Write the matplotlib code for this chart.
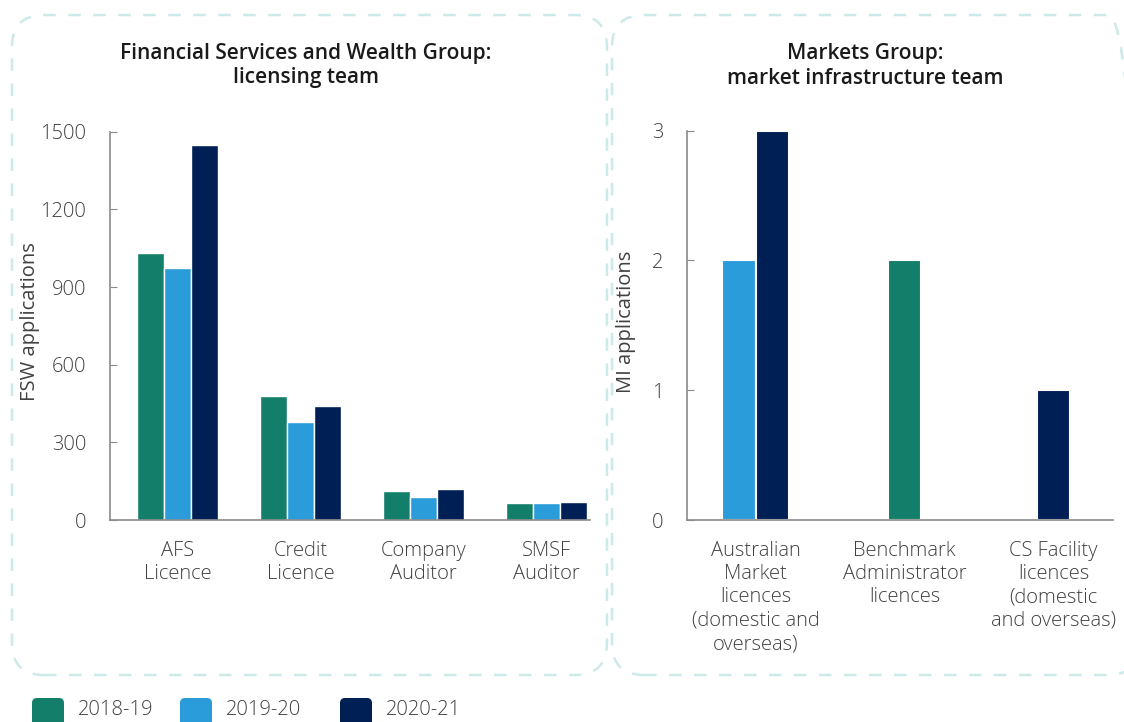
import matplotlib
matplotlib.use("Agg")
import matplotlib.pyplot as plt
import numpy as np
from matplotlib.patches import FancyBboxPatch

plt.rcParams['font.family'] = ['Open Sans', 'DejaVu Sans']
plt.rcParams['font.weight'] = 'light'

# data
years = ['2018-19', '2019-20', '2020-21']
colors = ['#137f6a', '#2b9cda', '#001f55']

fsw_categories = ['AFS\nLicence', 'Credit\nLicence', 'Company\nAuditor', 'SMSF\nAuditor']
fsw_2018 = [1033, 478, 112, 67]
fsw_2019 = [973, 380, 89, 66]
fsw_2020 = [1448, 442, 121, 71]

mi_categories = ['Australian\nMarket\nlicences\n(domestic and\noverseas)',
                 'Benchmark\nAdministrator\nlicences',
                 'CS Facility\nlicences\n(domestic\nand overseas)']
mi_2018 = [0, 2, 0]
mi_2019 = [2, 0, 0]
mi_2020 = [3, 0, 1]

W, H = 1124, 722
fig = plt.figure(figsize=(W / 100, H / 100), dpi=100)

txt = '#404040'
axc = '#8a8a8a'
box_c = '#cdeaea'
fs = 14.5


def style_axis(ax):
    for s in ['top', 'right']:
        ax.spines[s].set_visible(False)
    for s in ['left', 'bottom']:
        ax.spines[s].set_color(axc)
        ax.spines[s].set_linewidth(1.2)
    ax.tick_params(axis='y', direction='in', length=5, color=axc, pad=17,
                   labelsize=fs, labelcolor=txt)
    ax.tick_params(axis='x', length=0, pad=15, labelsize=fs, labelcolor=txt)


# left chart
ax1 = fig.add_axes([110 / W, 1 - 520 / H, 480 / W, (520 - 131.7) / H])
x = np.arange(len(fsw_categories))
w = 0.22
for j, vals in enumerate([fsw_2018, fsw_2019, fsw_2020]):
    ax1.bar(x + (j - 1) * w, vals, width=w, color=colors[j],
            edgecolor='white', linewidth=1)
ax1.set_xlim(-0.553, 3.358)
ax1.set_ylim(0, 1500)
ax1.set_yticks([0, 300, 600, 900, 1200, 1500])
ax1.set_xticks(x)
ax1.set_xticklabels(fsw_categories, linespacing=1.22)
ax1.set_ylabel('FSW applications', fontsize=fs, color=txt)
ax1.yaxis.set_label_coords((40 - 110) / 480, 0.51)
style_axis(ax1)

# right chart - only non-zero bars, centred on category
ax2 = fig.add_axes([687 / W, 1 - 520 / H, 426 / W, (520 - 130.7) / H])
w2 = 0.225
mi_series = [mi_2018, mi_2019, mi_2020]
for i in range(len(mi_categories)):
    nz = [j for j in range(3) if mi_series[j][i] > 0]
    for k, j in enumerate(nz):
        off = (k - (len(nz) - 1) / 2) * w2
        ax2.bar(i + off, mi_series[j][i], width=w2, color=colors[j],
                edgecolor='white', linewidth=1.5)
ax2.set_xlim(-0.46, 2.4)
ax2.set_ylim(0, 3)
ax2.set_yticks([0, 1, 2, 3])
ax2.set_xticks(range(len(mi_categories)))
ax2.set_xticklabels(mi_categories, linespacing=1.22, va='top')
ax2.set_ylabel('MI applications', fontsize=fs, color=txt)
ax2.yaxis.set_label_coords((636 - 687) / 426, 0.51)
style_axis(ax2)

# titles
fig.text(306 / W, 1 - 65.5 / H, 'Financial Services and Wealth Group:\nlicensing team',
         ha='center', va='center', fontsize=15, fontweight='semibold',
         color='#1a1a1a', linespacing=1.25)
fig.text(865 / W, 1 - 65.5 / H, 'Markets Group:\nmarket infrastructure team',
         ha='center', va='center', fontsize=15, fontweight='semibold',
         color='#1a1a1a', linespacing=1.25)

# dashed rounded panels (pixel coordinates)
for x0, x1 in [(12, 607), (612, 1140)]:
    p = FancyBboxPatch((x0, H - 675), x1 - x0, 675 - 15,
                       boxstyle='round,pad=0,rounding_size=32',
                       transform=None, fill=False, edgecolor=box_c,
                       linewidth=1.8, linestyle=(0, (5, 5)))
    fig.add_artist(p)

# legend
leg_x = [32, 180, 340]
for j, yr in enumerate(years):
    sq = FancyBboxPatch((leg_x[j], -8), 32, 32,
                        boxstyle='round,pad=0,rounding_size=5',
                        transform=None, facecolor=colors[j], edgecolor='none')
    fig.add_artist(sq)
    fig.text((leg_x[j] + 46) / W, 1 - 710 / H, yr, ha='left', va='center',
             fontsize=fs, color=txt)

fig.savefig('out.png', dpi=100)
